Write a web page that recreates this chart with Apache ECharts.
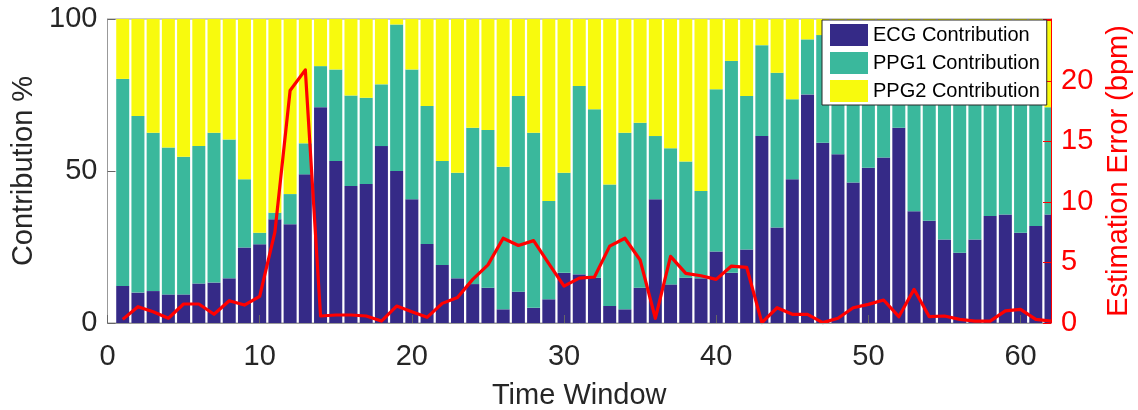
<!DOCTYPE html>
<html>
<head>
<meta charset="utf-8">
<script src="https://cdn.jsdelivr.net/npm/echarts@6/dist/echarts.min.js"></script>
<style>
html,body{margin:0;padding:0;background:#fff;}
#chart{width:1138px;height:410px;}
</style>
</head>
<body>
<div id="chart"></div>
<script>
const axisCategories = ['0','1','2','3','4','5','6','7','8','9','10','11','12','13','14','15','16','17','18','19','20','21','22','23','24','25','26','27','28','29','30','31','32','33','34','35','36','37','38','39','40','41','42','43','44','45','46','47','48','49','50','51','52','53','54','55','56','57','58','59','60','61','62'];
const timeWindows = [1,2,3,4,5,6,7,8,9,10,11,12,13,14,15,16,17,18,19,20,21,22,23,24,25,26,27,28,29,30,31,32,33,34,35,36,37,38,39,40,41,42,43,44,45,46,47,48,49,50,51,52,53,54,55,56,57,58,59,60,61,62];
const ecgContribution = [12.2,10.0,10.5,9.4,9.4,13.0,13.3,14.7,24.8,25.9,34.1,32.5,48.9,71.0,53.3,45.1,45.7,58.2,50.0,40.7,26.0,19.1,14.7,12.8,11.6,4.5,10.3,5.0,7.8,16.5,16.0,14.9,5.6,4.5,11.6,40.7,12.7,14.9,14.7,23.5,16.5,24.2,61.5,31.4,47.3,75.2,59.3,55.5,46.2,51.1,54.4,64.2,36.8,33.6,27.5,23.1,27.5,35.2,35.7,29.7,31.9,35.7];
const ppg1Contribution = [68.1,58.1,52.1,48.3,45.3,45.2,49.3,45.7,22.5,3.8,2.2,9.9,10.2,13.5,30.1,29.7,28.4,20.3,48.2,42.7,45.4,34.2,34.7,51.4,51.9,46.9,64.4,57.6,32.3,32.9,62.0,55.4,40.0,58.1,54.3,20.8,44.8,38.2,28.7,53.4,69.7,50.5,29.9,50.9,26.3,18.1,35.4,34.5,45.8,36.9,36.6,28.8,52.2,52.4,62.5,68.9,60.5,53.8,55.3,57.3,54.1,35.3];
const ppg2Contribution = [19.7,31.9,37.4,42.3,45.3,41.8,37.4,39.6,52.7,70.3,63.7,57.6,40.9,15.5,16.6,25.2,25.9,21.5,1.8,16.6,28.6,46.7,50.6,35.8,36.5,48.6,25.3,37.4,59.9,50.6,22.0,29.7,54.4,37.4,34.1,38.5,42.5,46.9,56.6,23.1,13.8,25.3,8.6,17.7,26.4,6.7,5.3,10,8,12,9,7,11,14,10,8,12,11,9,13,14,29.0];
const estimationError = [0.3,1.35,0.93,0.39,1.57,1.57,0.72,1.84,1.48,2.2,7.5,19.2,20.9,0.58,0.66,0.66,0.58,0.16,1.4,0.93,0.47,1.62,2.1,3.6,4.8,7.0,6.4,6.8,4.9,3.05,3.7,3.8,6.35,7.0,5.2,0.39,5.5,4.1,3.9,3.6,4.7,4.6,0.03,1.26,0.72,0.72,0.03,0.39,1.26,1.54,1.9,0.52,2.78,0.52,0.58,0.3,0.16,0.16,1.0,1.13,0.3,0.16];
const xTickLabels = ['0','10','20','30','40','50','60'];
const leftTickLabels = [0,50,100];
const rightTickLabels = [0,5,10,15,20];

const FONT = 'Liberation Sans, Arial, Helvetica, sans-serif';
const W = 1138, H = 410;
const GRID = {left: 107.5, right: 87, top: 19, bottom: 87};
const pair = arr => timeWindows.map((t, i) => [t, arr[i]]);
const isXTick = (idx, val) => xTickLabels.indexOf(String(val)) >= 0;

const chart = echarts.init(document.getElementById('chart'), null, {renderer: 'canvas'});
chart.setOption({
  animation: false,
  backgroundColor: '#fff',
  grid: {left: GRID.left, right: GRID.right, top: GRID.top, bottom: GRID.bottom, containLabel: false, outerBoundsMode: 'none',
    show: true, borderColor: '#999', borderWidth: 1, backgroundColor: 'transparent'},
  // white mask that trims the half of the last bar lying outside the plot box
  graphic: [{type: 'rect', z: 3, silent: true,
    shape: {x: W - GRID.right + 0.6, y: 0, width: 9, height: H - GRID.bottom + 2},
    style: {fill: '#fff'}}],
  legend: {
    data: ['ECG Contribution', 'PPG1 Contribution', 'PPG2 Contribution'],
    orient: 'vertical', left: 822, top: 20, z: 6,
    itemWidth: 38, itemHeight: 22, itemGap: 6,
    padding: [4, 7, 3, 8],
    backgroundColor: '#fff', borderColor: '#262626', borderWidth: 1,
    icon: 'rect',
    textStyle: {fontFamily: FONT, fontSize: 20, color: '#000'}
  },
  xAxis: {
    type: 'category', data: axisCategories, boundaryGap: false, z: 5,
    name: 'Time Window', nameLocation: 'middle', nameGap: 58,
    nameTextStyle: {fontFamily: FONT, fontSize: 29, color: '#262626'},
    axisLine: {lineStyle: {color: '#999', width: 1}},
    axisTick: {inside: true, length: 8, interval: isXTick, lineStyle: {color: '#666'}},
    axisLabel: {fontFamily: FONT, fontSize: 29, color: '#262626', margin: 19, interval: isXTick},
    splitLine: {show: false}
  },
  yAxis: [{
    type: 'value', min: 0, max: 100, interval: 50, position: 'left', z: 5,
    name: 'Contribution %', nameLocation: 'middle', nameGap: 64, nameRotate: 90,
    nameTextStyle: {fontFamily: FONT, fontSize: 29, color: '#262626'},
    axisLine: {show: true, lineStyle: {color: '#999', width: 1}},
    axisTick: {show: true, inside: true, length: 8, lineStyle: {color: '#666'}},
    axisLabel: {fontFamily: FONT, fontSize: 29, color: '#262626', margin: 10,
      formatter: v => leftTickLabels.indexOf(v) >= 0 ? String(v) : ''},
    splitLine: {show: false}
  }, {
    type: 'value', min: 0, max: 25.1, interval: 5, position: 'right', z: 5,
    name: 'Estimation Error (bpm)', nameLocation: 'middle', nameGap: 48, nameRotate: 90,
    nameTextStyle: {fontFamily: FONT, fontSize: 29, color: '#ff0000'},
    axisLine: {show: true, lineStyle: {color: '#ff0000', width: 1}},
    axisTick: {show: true, inside: true, length: 8, lineStyle: {color: '#ff0000'}},
    axisLabel: {fontFamily: FONT, fontSize: 29, color: '#ff0000', margin: 10,
      formatter: v => rightTickLabels.indexOf(v) >= 0 ? String(v) : ''},
    splitLine: {show: false}
  }],
  series: [
    {name: 'ECG Contribution', type: 'bar', stack: 'c', barWidth: 13, data: pair(ecgContribution), itemStyle: {color: '#352a87'}},
    {name: 'PPG1 Contribution', type: 'bar', stack: 'c', barWidth: 13, data: pair(ppg1Contribution), itemStyle: {color: '#3ab89c'}},
    {name: 'PPG2 Contribution', type: 'bar', stack: 'c', barWidth: 13, data: pair(ppg2Contribution), itemStyle: {color: '#f8fa0d'}},
    {name: 'Estimation Error', type: 'line', yAxisIndex: 1, data: pair(estimationError), symbol: 'none', z: 4,
      lineStyle: {color: '#ff0000', width: 3.2, join: 'round'}, itemStyle: {color: '#ff0000'}}
  ]
});
</script>
</body>
</html>
